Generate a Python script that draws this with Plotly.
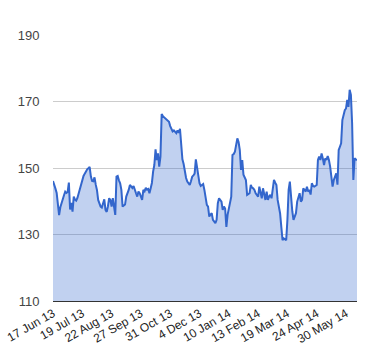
import plotly.graph_objects as go

# Tick labels (every 24th trading day) and their category positions
tick_labels = ["17 Jun 13", "19 Jul 13", "22 Aug 13", "27 Sep 13", "31 Oct 13",
               "4 Dec 13", "10 Jan 14", "13 Feb 14", "19 Mar 14", "24 Apr 14", "30 May 14"]
tick_positions = [0, 24, 48, 72, 96, 120, 144, 168, 192, 216, 240]

# Daily closing values (one per trading day)
prices = [
    146.1, 145.2, 143.8, 142.5, 139.0, 135.8, 138.2, 139.6, 140.3, 141.8,
    142.9, 142.5, 142.8, 145.6, 137.5, 139.5, 136.9, 141.4, 140.5, 140.2,
    141.0, 142.3, 144.0, 145.3, 146.4, 147.6, 148.3, 149.2, 149.6, 149.9,
    150.3, 147.5, 146.1, 146.0, 147.2, 145.0, 143.4, 140.4, 139.2, 138.4,
    138.1, 139.9, 140.6, 137.4, 136.8, 138.5, 140.9, 140.4, 138.4, 140.9,
    137.8, 135.9, 147.4, 147.6, 146.3, 145.4, 143.4, 138.4, 138.7, 139.0,
    141.4, 142.2, 143.4, 144.9, 144.3, 144.0, 144.6, 143.0, 142.4, 141.4,
    142.9, 142.4, 141.3, 140.4, 143.4, 143.0, 144.0, 143.5, 143.7, 142.4,
    143.9, 145.5, 148.9, 150.9, 155.6, 152.4, 154.4, 150.4, 153.4, 166.2,
    165.6, 165.2, 164.8, 164.5, 164.2, 163.9, 162.6, 162.0, 161.0, 161.3,
    160.8, 160.5, 161.3, 160.6, 161.8, 157.5, 152.6, 151.2, 148.4, 147.0,
    145.9, 145.2, 144.9, 146.0, 147.4, 147.8, 148.3, 152.6, 150.0, 147.9,
    145.4, 144.6, 145.0, 145.2, 143.4, 141.0, 138.9, 138.4, 135.4, 136.0,
    136.4, 134.4, 133.9, 133.4, 134.4, 139.4, 140.9, 140.2, 139.9, 137.4,
    138.4, 137.8, 132.3, 135.9, 137.6, 139.4, 141.4, 153.9, 154.2, 154.9,
    157.4, 158.9, 157.8, 155.4, 149.4, 152.4, 148.0, 147.2, 146.4, 141.9,
    142.3, 142.4, 144.9, 144.1, 143.9, 143.4, 142.4, 141.8, 141.4, 144.4,
    142.0, 140.9, 143.9, 142.3, 140.4, 142.9, 140.4, 141.4, 141.9, 140.9,
    143.4, 146.4, 145.6, 144.9, 140.4, 138.6, 136.4, 132.3, 128.3, 128.8,
    128.6, 128.3, 134.4, 143.4, 145.9, 141.0, 137.0, 134.4, 135.4, 136.4,
    139.9, 141.2, 142.4, 139.9, 140.4, 143.9, 143.2, 142.9, 144.4, 142.9,
    143.4, 142.0, 145.4, 144.6, 144.4, 144.6, 144.9, 152.4, 153.4, 152.4,
    154.4, 152.9, 150.9, 152.9, 152.4, 153.6, 152.4, 150.4, 147.4, 144.4,
    146.4, 147.2, 148.4, 145.0, 155.4, 156.4, 157.4, 164.4, 165.9, 167.4,
    167.9, 170.5, 168.4, 173.5, 172.0, 163.4, 146.4, 152.9, 152.6, 152.4,
]

y_ticks = [110, 130, 150, 170, 190]

x_index = list(range(len(prices)))

fig = go.Figure()
fig.add_trace(go.Scatter(
    x=x_index, y=prices, mode="lines",
    line=dict(color="#3366cc", width=2),
    fill="tozeroy", fillcolor="rgba(51,102,204,0.3)",
    hoverinfo="y", showlegend=False,
))

fig.update_layout(
    width=380, height=360,
    margin=dict(l=53, r=23, t=35, b=59, autoexpand=False),
    paper_bgcolor="white", plot_bgcolor="white",
    font=dict(family="Arial, Liberation Sans, sans-serif", color="#444444"),
    xaxis=dict(
        range=[0, len(prices) - 1], automargin=False,
        tickmode="array", tickvals=tick_positions, ticktext=tick_labels,
        tickangle=-30, tickfont=dict(size=12, color="#222222"),
        ticklabeloverflow="allow",
        showgrid=False, zeroline=False,
        showline=True, linecolor="#333333", linewidth=1,
        ticks="", fixedrange=True,
    ),
    yaxis=dict(
        range=[110, 190], automargin=False, tickmode="array", tickvals=y_ticks,
        tickfont=dict(size=13, color="#444444"),
        showgrid=True, gridcolor="#cccccc", gridwidth=1,
        zeroline=False, ticks="outside", ticklen=10, tickcolor="white",
        fixedrange=True,
    ),
)

fig.write_html(
    "out.html",
    config={"displayModeBar": False},
    post_script="document.body.style.margin='0';document.body.style.padding='0';",
)
